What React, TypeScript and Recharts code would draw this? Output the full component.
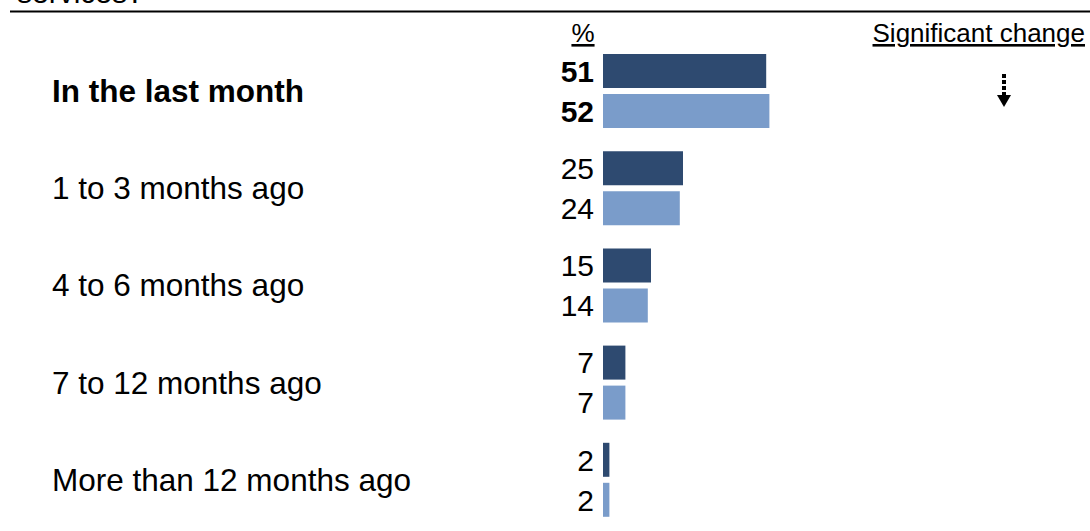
import React from 'react';
import { Bar, BarChart, LabelList, XAxis, YAxis } from 'recharts';

const categories = [
  'In the last month',
  '1 to 3 months ago',
  '4 to 6 months ago',
  '7 to 12 months ago',
  'More than 12 months ago',
];
const currentValues = [51, 25, 15, 7, 2];
const previousValues = [52, 24, 14, 7, 2];

const DARK = '#2E4A70';
const LIGHT = '#7A9CCA';
const FONT = '"Liberation Sans", Arial, sans-serif';

const chartData = categories.map((name, i) => ({
  name,
  current: currentValues[i],
  previous: previousValues[i],
}));

// first row is shown in bold in the source
const isBold = (label: string) => label === categories[0];

const CategoryTick = ({ y, payload }: any) => (
  <text
    x={52}
    y={y}
    dy="0.36em"
    fontSize={31.5}
    fontFamily={FONT}
    fontWeight={isBold(payload.value) ? 'bold' : 'normal'}
    fill="#000"
  >
    {payload.value}
  </text>
);

const makeValueLabel = (key: 'current' | 'previous') => (props: any) => {
  const { x, y, height, value, index } = props;
  return (
    <text
      x={x - 9}
      y={y + height / 2}
      dy="0.36em"
      textAnchor="end"
      fontSize={30}
      fontFamily={FONT}
      fontWeight={index === 0 ? 'bold' : 'normal'}
      fill="#000"
      key={`${key}-${index}`}
    >
      {value}
    </text>
  );
};

export default function App() {
  return (
    <div style={{ position: 'absolute', left: 0, top: 0, width: 1090, height: 531, background: '#fff' }}>
      <BarChart
        width={1090}
        height={531}
        layout="vertical"
        data={chartData}
        margin={{ top: 42, right: 167, bottom: 3, left: 0 }}
        barGap={6}
      >
        <XAxis type="number" domain={[0, 100]} hide />
        <YAxis
          type="category"
          dataKey="name"
          width={603}
          axisLine={false}
          tickLine={false}
          tick={<CategoryTick />}
        />
        <Bar dataKey="current" fill={DARK} barSize={34} isAnimationActive={false}>
          <LabelList dataKey="current" content={makeValueLabel('current')} />
        </Bar>
        <Bar dataKey="previous" fill={LIGHT} barSize={34} isAnimationActive={false}>
          <LabelList dataKey="previous" content={makeValueLabel('previous')} />
        </Bar>
      </BarChart>

      <svg
        width={1090}
        height={531}
        style={{ position: 'absolute', left: 0, top: 0, pointerEvents: 'none' }}
      >
        <text x={17} y={3} fontSize={30} fontFamily={FONT} fill="#000">services?</text>
        <line x1={10} x2={1090} y1={11.5} y2={11.5} stroke="#000" strokeWidth={2} />
        <text x={583} y={42} textAnchor="middle" fontSize={26} fontFamily={FONT} fill="#000" textDecoration="underline">%</text>
        <text x={1085} y={42} textAnchor="end" fontSize={26} fontFamily={FONT} fill="#000" textDecoration="underline">Significant change</text>
        <line x1={1004} x2={1004} y1={74} y2={97} stroke="#000" strokeWidth={4} strokeDasharray="4 2" />
        <polygon points="997,95 1011,95 1004,107" fill="#000" />
      </svg>
    </div>
  );
}
